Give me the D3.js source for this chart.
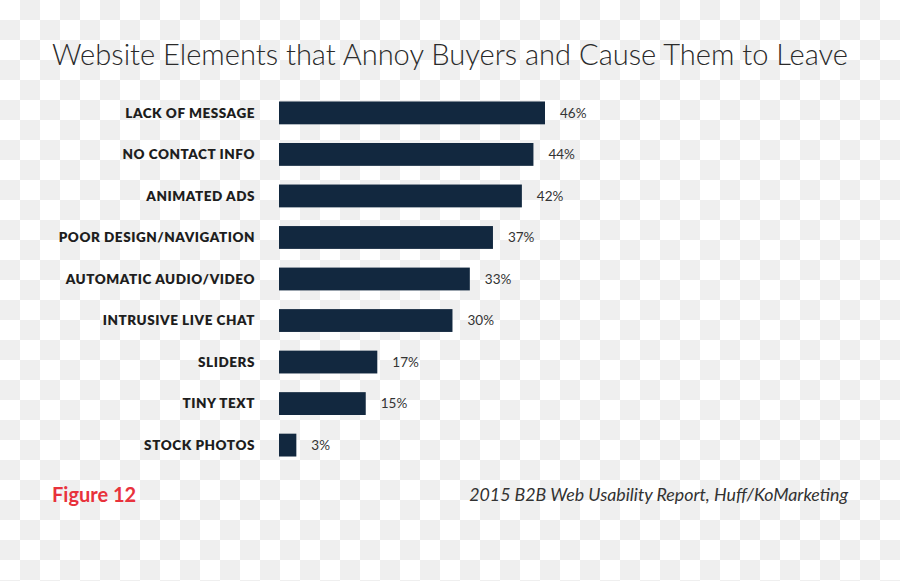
<!DOCTYPE html>
<html>
<head>
<meta charset="utf-8">
<script src="https://cdn.jsdelivr.net/npm/d3@7"></script>
<style>
  html, body { margin: 0; padding: 0; background: #fff; }
  svg { display: block; }
</style>
</head>
<body>
<svg id="chart" width="900" height="581"></svg>
<script>
const categories = ["LACK OF MESSAGE", "NO CONTACT INFO", "ANIMATED ADS", "POOR DESIGN/NAVIGATION",
  "AUTOMATIC AUDIO/VIDEO", "INTRUSIVE LIVE CHAT", "SLIDERS", "TINY TEXT", "STOCK PHOTOS"];
const values = [46, 44, 42, 37, 33, 30, 17, 15, 3];
const valueLabels = ["46%", "44%", "42%", "37%", "33%", "30%", "17%", "15%", "3%"];
const title = "Website Elements that Annoy Buyers and Cause Them to Leave";
const figureLabel = "Figure 12";
const sourceLabel = "2015 B2B Web Usability Report, Huff/KoMarketing";

const W = 900, H = 581;
const svg = d3.select("#chart");

// checkerboard background
const defs = svg.append("defs");
const pat = defs.append("pattern").attr("id", "checker").attr("width", 40).attr("height", 40)
  .attr("patternUnits", "userSpaceOnUse");
pat.append("rect").attr("width", 40).attr("height", 40).attr("fill", "#ffffff");
pat.append("rect").attr("x", 20).attr("y", 0).attr("width", 20).attr("height", 20).attr("fill", "#efefef");
pat.append("rect").attr("x", 0).attr("y", 20).attr("width", 20).attr("height", 20).attr("fill", "#efefef");
svg.append("rect").attr("width", W).attr("height", H).attr("fill", "url(#checker)");

const data = categories.map((c, i) => ({ cat: c, v: values[i], lbl: valueLabels[i] }));

const x = d3.scaleLinear().domain([0, d3.max(values)]).range([279, 545]);
const y = d3.scaleBand().domain(categories).range([82.8, 475.2]).padding(0.45);

// title
svg.append("text")
  .attr("x", 450).attr("y", 65)
  .attr("text-anchor", "middle")
  .attr("font-family", "Lato, 'Open Sans', sans-serif")
  .attr("font-weight", 300)
  .attr("font-size", 29)
  .attr("fill", "#2b2b2b")
  .attr("textLength", 796).attr("lengthAdjust", "spacingAndGlyphs")
  .text(title);

// bars
svg.append("g").selectAll("rect").data(data).join("rect")
  .attr("x", x(0))
  .attr("y", d => y(d.cat))
  .attr("width", d => x(d.v) - x(0))
  .attr("height", y.bandwidth())
  .attr("fill", "#12283f");

// category labels
svg.append("g").selectAll("text").data(data).join("text")
  .attr("x", 255)
  .attr("y", d => y(d.cat) + y.bandwidth() / 2)
  .attr("dy", "0.35em")
  .attr("text-anchor", "end")
  .attr("font-family", "Lato, 'Open Sans', sans-serif")
  .attr("font-weight", 800)
  .attr("font-size", 13.5)
  .attr("letter-spacing", 0.55)
  .attr("fill", "#1e1e1e")
  .text(d => d.cat);

// value labels
svg.append("g").selectAll("text").data(data).join("text")
  .attr("x", d => x(d.v) + 15)
  .attr("y", d => y(d.cat) + y.bandwidth() / 2)
  .attr("dy", "0.35em")
  .attr("font-family", "Lato, 'Open Sans', sans-serif")
  .attr("font-size", 13.5)
  .attr("fill", "#333")
  .text(d => d.lbl);

// footer
svg.append("text")
  .attr("x", 52).attr("y", 502)
  .attr("font-family", "Lato, 'Open Sans', sans-serif")
  .attr("font-weight", 700)
  .attr("font-size", 20)
  .attr("fill", "#e8323c")
  .text(figureLabel);

svg.append("text")
  .attr("x", 848).attr("y", 501)
  .attr("text-anchor", "end")
  .attr("font-family", "Lato, 'Open Sans', sans-serif")
  .attr("font-style", "italic")
  .attr("font-size", 17.8)
  .attr("fill", "#333")
  .text(sourceLabel);
</script>
</body>
</html>
